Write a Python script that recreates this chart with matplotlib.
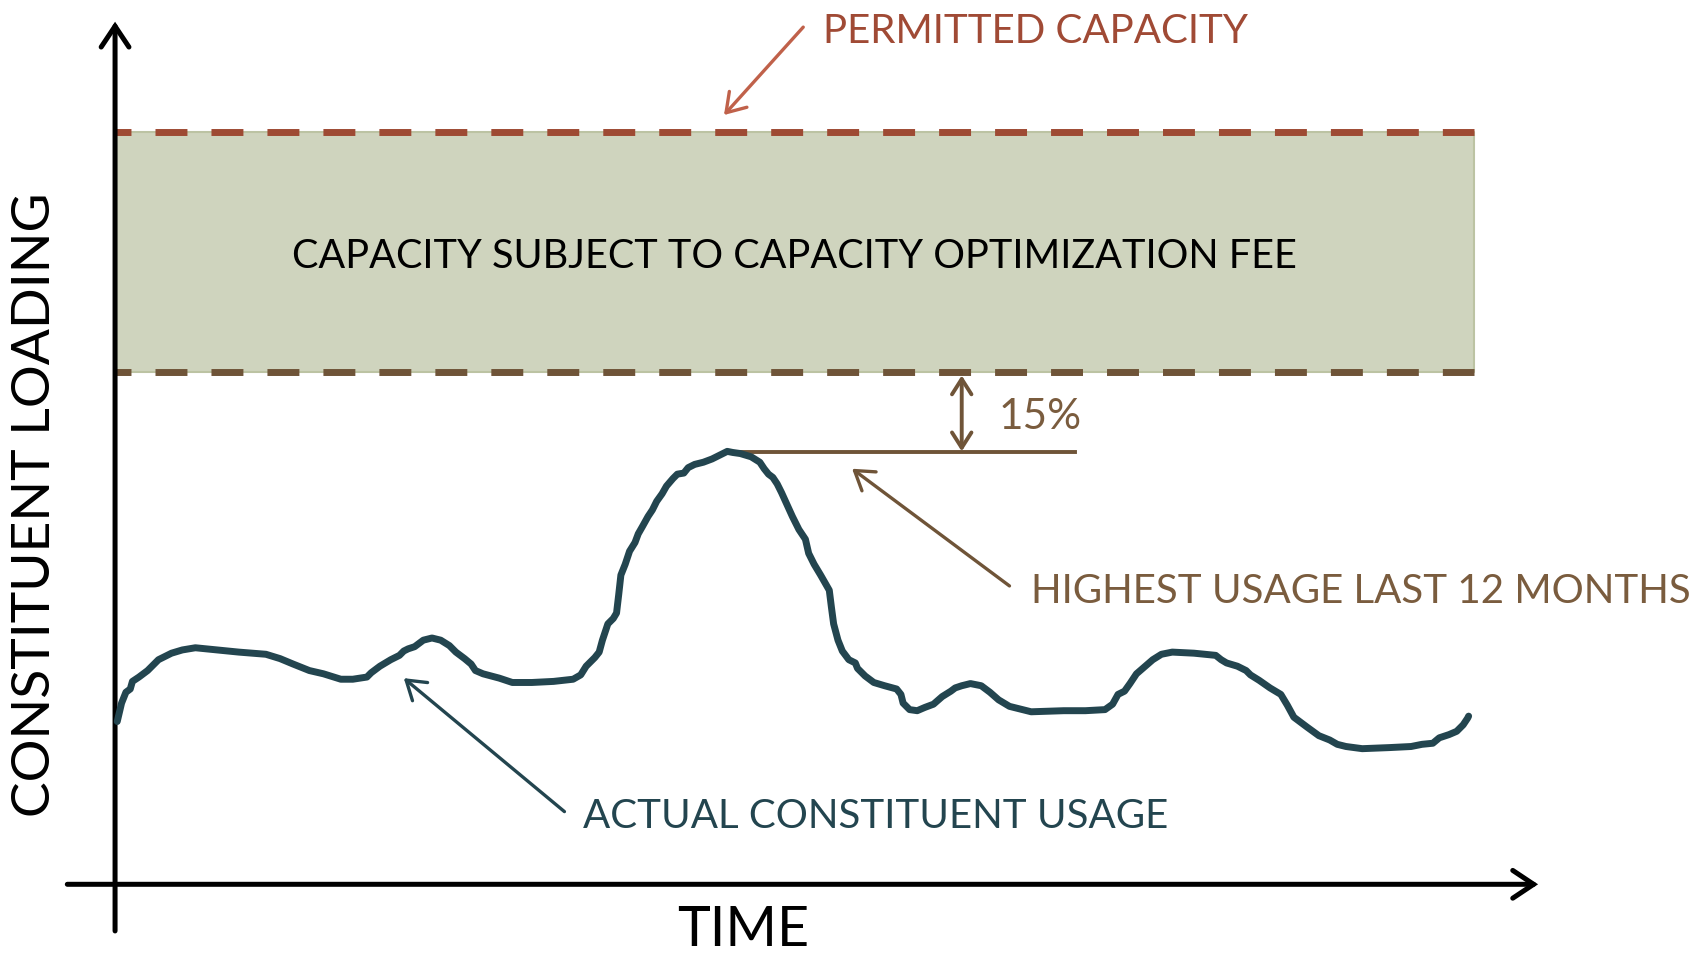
import matplotlib
matplotlib.use("Agg")
import matplotlib.pyplot as plt
import numpy as np

plt.rcParams['font.family'] = ['Lato', 'DejaVu Sans']

# ---- data (chart units: x = time position, y = loading position, y grows downward) ----
usage_x = [108, 112, 116, 120, 122, 128, 136, 140, 146, 152, 158, 168, 180, 200, 220, 245,
           258, 270, 285, 298, 314, 325, 338, 342, 350, 360, 368, 372, 376, 382, 390, 398,
           406, 414, 420, 428, 434, 438, 445, 460, 472, 490, 510, 528, 535, 540, 548, 552,
           555, 560, 565, 568, 570, 572, 576, 580, 585, 588, 592, 597, 601, 605, 610, 614,
           620, 624, 630, 634, 640, 648, 656, 664, 670, 675, 682, 692, 700, 704, 708, 712,
           716, 720, 725, 730, 736, 742, 745, 750, 756, 764, 766, 768, 772, 776, 782, 788,
           790, 797, 805, 815, 826, 830, 832, 838, 845, 852, 860, 868, 876, 880, 886, 894,
           904, 912, 920, 930, 950, 980, 1000, 1018, 1025, 1030, 1036, 1041, 1047, 1055,
           1062, 1070, 1080, 1100, 1120, 1125, 1130, 1140, 1148, 1152, 1160, 1170, 1180,
           1186, 1192, 1204, 1215, 1225, 1232, 1240, 1255, 1280, 1300, 1310, 1320, 1326,
           1335, 1342, 1348, 1352, 1353]
usage_y = [665, 648, 638, 635, 628, 624, 618, 614, 608, 605, 602, 599, 597, 599, 601, 603,
           607, 612, 618, 621, 626, 626, 624, 620, 614, 608, 604, 600, 598, 596, 590, 588,
           590, 595, 601, 607, 612, 618, 621, 625, 629, 629, 628, 626, 622, 614, 606, 601,
           590, 575, 570, 565, 548, 530, 520, 508, 500, 492, 485, 476, 470, 462, 455, 448,
           441, 437, 436, 431, 428, 426, 423, 419, 416, 417, 418, 421, 426, 432, 437, 440,
           446, 454, 465, 476, 488, 497, 510, 520, 530, 544, 560, 575, 590, 600, 608, 611,
           616, 623, 629, 632, 635, 640, 648, 654, 655, 652, 649, 642, 637, 634, 632, 630,
           632, 638, 645, 651, 656, 655, 655, 654, 649, 640, 637, 630, 621, 614,
           608, 603, 601, 602, 604, 608, 611, 614, 618, 622, 627, 634, 640,
           650, 661, 670, 678, 682, 686, 688, 690, 689, 688, 686, 685, 680,
           677, 674, 668, 662, 660]

permitted_capacity = 122
fee_threshold = 343
highest_usage = 417
band_x = [106, 1358]

# ---- figure ----
fig = plt.figure(figsize=(17.02, 9.57), dpi=100)
ax = fig.add_axes([0, 0, 1, 1])
ax.set_xlim(0, 1568)
ax.set_ylim(882, 0)
ax.axis('off')

# band
ax.fill_between(band_x, permitted_capacity, fee_threshold, color='#CFD4BE',
                edgecolor='#BCC3A3', linewidth=1.5, zorder=1)

# dashed lines
LW_D = 5.0
for yv, col in [(permitted_capacity, '#9E4A33'), (fee_threshold, '#6F5438')]:
    ln, = ax.plot(band_x, [yv, yv], color=col, lw=LW_D, solid_capstyle='butt',
                  dash_capstyle='butt', zorder=3)
    ln.set_linestyle((11.5 / LW_D, (23 / LW_D, 17.3 / LW_D)))

ax.text(732, 247, 'CAPACITY SUBJECT TO CAPACITY OPTIMIZATION FEE', ha='center',
        va='baseline', fontsize=28.5, color='black', zorder=4)

# axes arrows
axis_arrow = dict(arrowstyle='->,head_length=1.5,head_width=1.0', color='black',
                  lw=3.6, shrinkA=0, shrinkB=0, joinstyle='miter', capstyle='round')
ax.annotate('', xy=(106, 20), xytext=(106, 858), arrowprops=axis_arrow, zorder=5)
ax.annotate('', xy=(1417, 815), xytext=(62, 815), arrowprops=axis_arrow, zorder=5)

ax.text(33, 465, 'CONSTITUENT LOADING', rotation=90, ha='center', va='center',
        fontsize=38.5, color='black')
ax.text(685, 881, 'TIME', ha='center', va='bottom', fontsize=40, color='black')

# usage curve
ax.plot(usage_x, usage_y, color='#23454F', lw=5, solid_joinstyle='round',
        solid_capstyle='round', zorder=6)

# highest usage line
ax.plot([676, 990], [highest_usage, highest_usage], color='#6F5438', lw=2.8, zorder=5)

# 15% double arrow
ax.annotate('', xy=(886, fee_threshold + 3), xytext=(886, highest_usage - 1),
            arrowprops=dict(arrowstyle='<->,head_length=1.1,head_width=0.7',
                            color='#6F5438', lw=2.8, shrinkA=0, shrinkB=0), zorder=5)
ax.text(920, 395, '15%', ha='left', va='baseline', fontsize=30.5, color='#7A5C3E')

label_arrow = dict(arrowstyle='->,head_length=1.3,head_width=0.85', lw=2.4,
                   shrinkA=0, shrinkB=0)

# permitted capacity label
ax.annotate('', xy=(667, 106), xytext=(740, 25),
            arrowprops=dict(label_arrow, color='#C0614A'))
ax.text(758, 40, 'PERMITTED CAPACITY', ha='left', va='baseline', fontsize=29,
        color='#A04A35')

# highest usage label
ax.annotate('', xy=(785, 432), xytext=(930, 540),
            arrowprops=dict(label_arrow, color='#6F5438'))
ax.text(950, 556, 'HIGHEST USAGE LAST 12 MONTHS', ha='left', va='baseline',
        fontsize=29, color='#7A5C3E')

# actual usage label
ax.annotate('', xy=(372, 625), xytext=(520, 748),
            arrowprops=dict(label_arrow, color='#23454F'))
ax.text(537, 763, 'ACTUAL CONSTITUENT USAGE', ha='left', va='baseline',
        fontsize=29, color='#23454F')

fig.savefig('out.png', dpi=100, facecolor='white')
